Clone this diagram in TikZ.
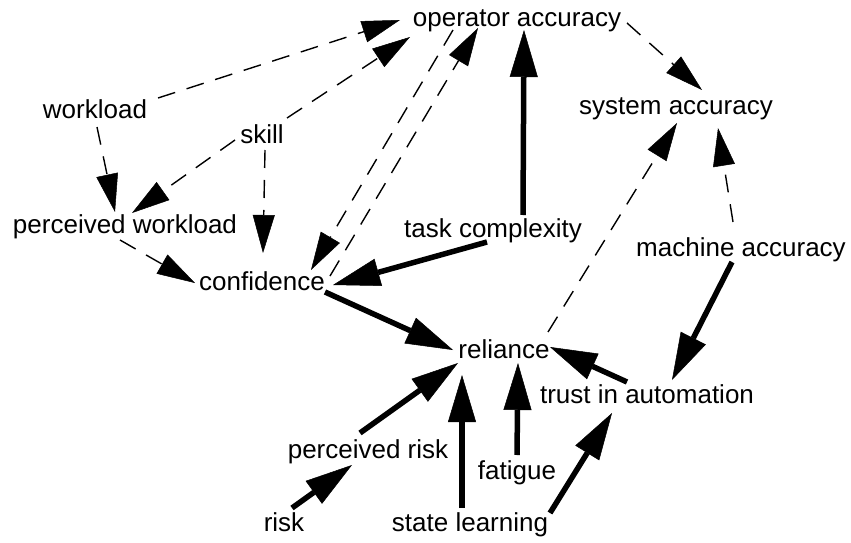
\documentclass[tikz,border=0pt]{standalone}
\usepackage{fontspec}
\setmainfont{Liberation Sans}
\usetikzlibrary{arrows.meta,calc}
\begin{document}
\begin{tikzpicture}[x=1pt,y=-1pt,
  lbl/.style={inner sep=0pt, text height=19pt, text depth=5.5pt,
              font=\fontsize{26}{30}\selectfont},
  strongarrow/.style={line width=5.5pt,
              -{Triangle[length=47pt,width=28pt,line width=0.5pt]}},
  weakarrow/.style={line width=1.4pt, dash pattern=on 18pt off 12pt,
              -{Triangle[length=38pt,width=22pt,line width=0.5pt]}},
]
\useasboundingbox (0,0) rectangle (851,543);

% variables
\node[lbl] (oa) at (517,20)  {operator accuracy};
\node[lbl] (sa) at (676,108) {system accuracy};
\node[lbl] (wl) at (95,112)  {workload};
\node[lbl] (sk) at (262,137) {skill};
\node[lbl] (pw) at (125,227) {perceived workload};
\node[lbl] (tc) at (493,231) {task complexity};
\node[lbl] (ma) at (741,250) {machine accuracy};
\node[lbl] (cf) at (262,284) {confidence};
\node[lbl] (rl) at (504,352) {reliance};
\node[lbl] (ta) at (647,397) {trust in automation};
\node[lbl] (pr) at (368,452) {perceived risk};
\node[lbl] (fa) at (517,473) {fatigue};
\node[lbl] (rk) at (284,525) {risk};
\node[lbl] (sl) at (470,525) {state learning};

% weak (dashed) influences
\draw[weakarrow] ($(wl)+(63,-14)$) -- ($(oa)+(-117,0)$);
\draw[weakarrow] ($(sk)+(25,-19)$) -- ($(oa)+(-107,17)$);
\draw[weakarrow] ($(wl)+(2,15)$)   -- ($(pw)+(-10,-15)$);
\draw[weakarrow] ($(sk)+(-27,3)$)  -- ($(pw)+(7,-14)$);
\draw[weakarrow] ($(sk)+(3,13)$)   -- ($(cf)+(1,-31)$);
\draw[weakarrow] ($(pw)+(-5,13)$)  -- ($(cf)+(-67,-1)$);
\draw[weakarrow] ($(oa)+(-64,10)$) -- ($(cf)+(49,-14)$);
\draw[weakarrow] ($(cf)+(68,-8)$)  -- ($(oa)+(-39,8)$);
\draw[weakarrow] ($(oa)+(110,3)$)  -- ($(sa)+(26,-18)$);
\draw[weakarrow] ($(ma)+(-8,-28)$) -- ($(sa)+(42,20)$);
\draw[weakarrow] ($(rl)+(44,-20)$) -- ($(sa)+(1,15)$);

% strong (solid) influences
\draw[strongarrow] ($(tc)+(30,-16)$)  -- ($(oa)+(7,10)$);
\draw[strongarrow] ($(tc)+(-6,11)$)   -- ($(cf)+(71,1)$);
\draw[strongarrow] ($(ma)+(-9,12)$)   -- ($(ta)+(25,-17)$);
\draw[strongarrow] ($(ta)+(-20,-15)$) -- ($(rl)+(46,-5)$);
\draw[strongarrow] ($(cf)+(63,8)$)    -- ($(rl)+(-51,-2)$);
\draw[strongarrow] ($(pr)+(-8,-19)$)  -- ($(rl)+(-46,11)$);
\draw[strongarrow] ($(rk)+(8,-17)$)   -- ($(pr)+(-16,13)$);
\draw[strongarrow] ($(sl)+(-8,-17)$)  -- ($(rl)+(-42,23)$);
\draw[strongarrow] ($(fa)+(0,-18)$)   -- ($(rl)+(14,11)$);
\draw[strongarrow] ($(sl)+(80,-12)$)  -- ($(ta)+(-35,16)$);
\end{tikzpicture}
\end{document}
